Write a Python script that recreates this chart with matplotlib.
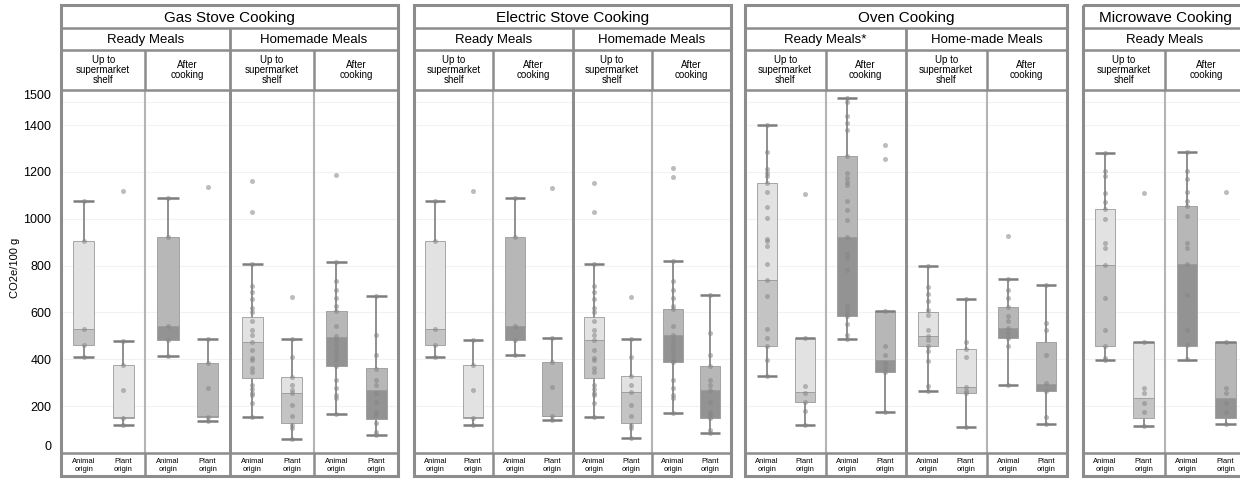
import matplotlib.pyplot as plt
from matplotlib.patches import Rectangle

plt.rcParams['font.family'] = ['Liberation Sans', 'DejaVu Sans']

W, H = 1240, 479

panel_titles = ['Gas Stove Cooking', 'Electric Stove Cooking', 'Oven Cooking', 'Microwave Cooking']
panel_meals = [['Ready Meals', 'Homemade Meals'],
               ['Ready Meals', 'Homemade Meals'],
               ['Ready Meals*', 'Home-made Meals'],
               ['Ready Meals']]
stages = ['Up to\nsupermarket\nshelf', 'After\ncooking']
origins = ['Animal\norigin', 'Plant\norigin']
yticks = [0, 200, 400, 600, 800, 1000, 1200, 1400, 1500]
ylabel = 'CO2e/100 g'

# box stats, one list per panel; order inside: meal > stage > origin
box_lo = [[410, 118, 415, 136, 153, 60, 167, 78],
          [412, 120, 420, 141, 155, 66, 170, 84],
          [330, 120, 488, 173, 265, 110, 291, 124],
          [395, 116, 398, 124]]
box_q1 = [[460, 150, 481, 155, 322, 130, 370, 145],
          [462, 151, 484, 158, 322, 130, 387, 148],
          [458, 217, 583, 348, 458, 255, 491, 265],
          [455, 148, 455, 148]]
box_med = [[530, 152, 541, 157, 476, 255, 495, 267],
           [530, 153, 544, 160, 481, 260, 505, 270],
           [738, 262, 923, 398, 498, 280, 534, 294],
           [802, 234, 809, 234]]
box_q3 = [[905, 375, 921, 385, 579, 324, 608, 362],
          [905, 377, 921, 387, 579, 330, 616, 370],
          [1154, 491, 1268, 608, 601, 444, 624, 474],
          [1043, 476, 1054, 476]]
box_hi = [[1075, 479, 1090, 488, 805, 487, 815, 672],
          [1075, 481, 1090, 491, 805, 488, 819, 676],
          [1400, 491, 1515, 608, 798, 658, 741, 719],
          [1280, 476, 1286, 476]]
box_pts = [
    [[1075, 905, 530, 460, 410],
     [1120, 479, 375, 270, 150, 118],
     [1090, 921, 541, 481, 415],
     [1135, 488, 385, 277, 155, 136],
     [1160, 1030, 805, 712, 686, 658, 619, 601, 562, 527, 505, 476, 441, 405,
      395, 362, 348, 291, 274, 255, 248, 215, 153],
     [665, 487, 412, 324, 291, 270, 255, 205, 158, 120, 106, 60],
     [1185, 815, 733, 698, 662, 626, 608, 544, 498, 484, 462, 441, 420, 398,
      370, 312, 277, 248, 234, 167],
     [672, 505, 420, 360, 310, 291, 255, 217, 177, 163, 130, 91, 78]],
    [[1075, 905, 530, 462, 412],
     [1120, 481, 377, 270, 151, 120],
     [1090, 921, 544, 484, 420],
     [1130, 491, 387, 281, 158, 141],
     [1155, 1030, 805, 712, 686, 658, 619, 601, 562, 527, 505, 481, 441, 405,
      395, 362, 348, 291, 274, 255, 248, 215, 155],
     [666, 488, 412, 330, 291, 260, 205, 158, 120, 106, 66],
     [1215, 1180, 819, 733, 698, 662, 626, 616, 544, 505, 484, 462, 441, 420,
      398, 387, 312, 277, 248, 234, 170],
     [676, 512, 420, 370, 310, 291, 270, 217, 177, 163, 148, 100, 84]],
    [[1400, 1286, 1212, 1197, 1183, 1154, 1114, 1052, 1005, 915, 905, 883, 809,
      738, 669, 530, 491, 458, 398, 330],
     [1105, 491, 284, 258, 217, 180, 120],
     [1515, 1497, 1437, 1408, 1380, 1268, 1197, 1176, 1157, 1143, 1076, 1037,
      994, 923, 848, 833, 783, 626, 612, 595, 583, 552, 505, 488],
     [1315, 1255, 608, 455, 420, 384, 362, 348, 173],
     [798, 708, 679, 648, 609, 591, 527, 498, 484, 458, 434, 391, 284, 265],
     [658, 476, 444, 410, 280, 265, 255, 110],
     [925, 741, 698, 662, 624, 583, 562, 534, 512, 491, 455, 291],
     [719, 555, 527, 417, 298, 265, 155, 124]],
    [[1280, 1204, 1183, 1112, 1073, 1043, 1000, 898, 876, 802, 662, 527, 455,
      405, 395],
     [1112, 476, 277, 258, 213, 174, 116],
     [1286, 1204, 1169, 1114, 1076, 1054, 1012, 898, 876, 809, 676, 527, 462,
      400],
     [1114, 476, 277, 258, 213, 174, 124]],
]

# layout in pixels
panel_px = [(61, 398), (414, 731), (745, 1067), (1083, 1247)]
y_top, y_r1, y_r2, y_data, y_bot, y_end = 5, 28, 50, 90, 453, 476
upper_col = ['#e2e2e2', '#b7b7b7']
lower_col = ['#c4c4c4', '#939393']
line_col = '#8c8c8c'
offs = [0.27, 0.74]
bw = 0.25


def fx(x):
    return x / W


def fy(y):
    return 1 - y / H


fig = plt.figure(figsize=(W / 100, H / 100), dpi=100)
fig.text(fx(15), fy(268), ylabel, rotation=90, ha='center', va='center', fontsize=8)

for p, (x0, x1) in enumerate(panel_px):
    ncols = len(panel_meals[p]) * 2
    ax = fig.add_axes([fx(x0), fy(y_bot), fx(x1) - fx(x0), (y_bot - y_data) / H])
    ax.set_xlim(0, ncols)
    ax.set_ylim(0, 1550)
    ax.set_yticks(yticks)
    ax.set_xticks([])
    ax.grid(axis='y', color='#f2f2f2', lw=0.8)
    ax.set_axisbelow(True)
    ax.tick_params(length=0, labelsize=9, pad=7)
    for s in ax.spines.values():
        s.set_visible(False)
    if p > 0:
        ax.set_yticklabels([])
    else:
        labs = ax.get_yticklabels()
        labs[0].set_va('bottom')
        labs[-1].set_va('bottom')
    for c in range(1, ncols):
        ax.axvline(c, color='#8c8c8c' if c % 2 == 0 else '#b4b4b4',
                   lw=2 if c % 2 == 0 else 1.5, zorder=1)

    for k in range(ncols * 2):
        col, org = k // 2, k % 2
        stage = col % 2
        x = col + offs[org]
        lo, q1, med = box_lo[p][k], box_q1[p][k], box_med[p][k]
        q3, hi = box_q3[p][k], box_hi[p][k]
        ax.vlines(x, lo, hi, color='#7d7d7d', lw=1.2, zorder=2)
        ax.bar(x, med - q1, bottom=q1, width=bw, color=lower_col[stage],
               edgecolor='#9a9a9a', lw=0.6, zorder=3)
        ax.bar(x, q3 - med, bottom=med, width=bw, color=upper_col[stage],
               edgecolor='#9a9a9a', lw=0.6, zorder=3)
        ax.hlines([lo, hi], x - bw / 2, x + bw / 2, color='#7d7d7d', lw=1.8, zorder=4)
        pts = box_pts[p][k]
        ax.scatter([x] * len(pts), pts, s=13, color='#858585', alpha=0.55,
                   lw=0, zorder=5)

# header cells and borders drawn on top in pixel space
ov = fig.add_axes([0, 0, 1, 1], zorder=10)
ov.set_xlim(0, W)
ov.set_ylim(H, 0)
ov.axis('off')

for p, (x0, x1) in enumerate(panel_px):
    meals = panel_meals[p]
    ncols = len(meals) * 2
    colw = (x1 - x0) / ncols
    ov.add_patch(Rectangle((x0, y_top), x1 - x0, y_end - y_top, fill=False,
                           ec=line_col, lw=2.2))
    ov.hlines([y_r1, y_r2, y_data, y_bot], x0, x1, color=line_col, lw=1.8)
    ov.text((x0 + x1) / 2, (y_top + y_r1) / 2 + 1, panel_titles[p],
            ha='center', va='center', fontsize=11)
    for m, meal in enumerate(meals):
        mx0 = x0 + m * 2 * colw
        if m > 0:
            ov.vlines(mx0, y_r1, y_end, color=line_col, lw=2)
        ov.text(mx0 + colw, (y_r1 + y_r2) / 2 + 1, meal, ha='center',
                va='center', fontsize=9.5)
    for c in range(ncols):
        cx0 = x0 + c * colw
        if c % 2 == 1:
            ov.vlines(cx0, y_r2, y_data, color=line_col, lw=1.8)
            ov.vlines(cx0, y_bot, y_end, color=line_col, lw=1.8)
        ov.text(cx0 + colw / 2, (y_r2 + y_data) / 2, stages[c % 2],
                ha='center', va='center', fontsize=7, linespacing=1.0)
        for o in range(2):
            ov.text(cx0 + offs[o] * colw, (y_bot + y_end) / 2 + 1, origins[o],
                    ha='center', va='center', fontsize=5.5, linespacing=1.35)

fig.savefig('out.png', dpi=100)
